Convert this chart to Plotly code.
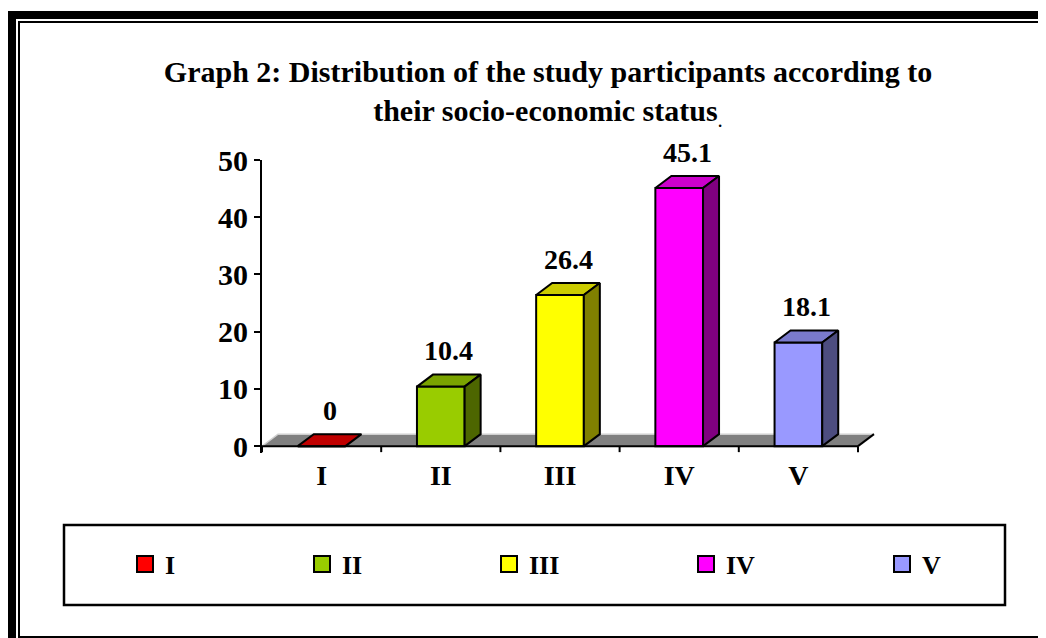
import plotly.graph_objects as go

# ---- data ----
categories = ["I", "II", "III", "IV", "V"]
values = [0, 10.4, 26.4, 45.1, 18.1]
front_colors = ["#FF0000", "#99CC00", "#FFFF00", "#FF00FF", "#9999FF"]
top_colors = ["#C00000", "#7AA300", "#CCCC00", "#CC00CC", "#7A7ACC"]
side_colors = ["#800000", "#4D6600", "#808000", "#800080", "#4D4D80"]
y_ticks = [0, 10, 20, 30, 40, 50]
title_text = ("<b>Graph 2: Distribution of the study participants according to<br>"
              "their socio-economic status</b><sub>.</sub>")

# ---- layout geometry (page has an 8px body margin) ----
OFF = 8
W, H = 1046 - OFF, 638 - OFF
L, T, B = 262 - OFF, 160 - OFF, 185
PLOT_RIGHT = 1040 - OFF
R = W - PLOT_RIGHT
PW, PH = W - L - R, H - T - B
X_UNIT_PX = 119.2
XR = [-0.5, -0.5 + PW / X_UNIT_PX]
YR = [-1.2, 50]
px_per_x = PW / (XR[1] - XR[0])
px_per_y = PH / (YR[1] - YR[0])
DX = 16 / px_per_x      # 3-D depth offset in data units
DY = 12 / px_per_y
BW = 0.4                # bar width
LABEL_OFF_PX = 36
FONT = "Liberation Serif, Times New Roman, serif"
LEGEND_ICON_PX = [145, 322, 509, 706, 902]   # legend swatch centres (window px)


def pxx(px):
    """reference-window pixel x -> paper coordinate"""
    return (px - OFF - L) / PW


def pxy(py):
    """reference-window pixel y -> paper coordinate"""
    return (H - B - (py - OFF)) / PH


fig = go.Figure()
n = len(categories)
xs = list(range(n))

# front faces (bars)
for i, (c, v) in enumerate(zip(categories, values)):
    fig.add_trace(go.Bar(
        x=[i], y=[v], width=BW, name=c, legendgroup=c, showlegend=False,
        marker=dict(color=front_colors[i], line=dict(color="black", width=2)),
        hoverinfo="skip",
    ))

# top and side faces
for i, v in enumerate(values):
    x0, x1 = i - BW / 2, i + BW / 2
    fig.add_trace(go.Scatter(
        x=[x0, x1, x1 + DX, x0 + DX, x0], y=[v, v, v + DY, v + DY, v],
        fill="toself", fillcolor=top_colors[i], mode="lines",
        line=dict(color="black", width=2), showlegend=False, hoverinfo="skip"))
    if v > 0:
        fig.add_trace(go.Scatter(
            x=[x1, x1 + DX, x1 + DX, x1, x1], y=[0, DY, v + DY, v, 0],
            fill="toself", fillcolor=side_colors[i], mode="lines",
            line=dict(color="black", width=2), showlegend=False, hoverinfo="skip"))

# x axis line, boundary ticks, right floor edge
bx = [b - 0.5 for b in range(n + 1)]
tx, ty = [bx[0], bx[-1], None], [0, 0, None]
for b in bx:
    tx += [b, b, None]
    ty += [0, -6 / px_per_y, None]
tx += [bx[-1], bx[-1] + DX]
ty += [0, DY]
fig.add_trace(go.Scatter(x=tx, y=ty, mode="lines", line=dict(color="black", width=2),
                         showlegend=False, hoverinfo="skip"))

# legend entries (square swatches), one small legend per entry
legend_names = ["legend"] + [f"legend{k}" for k in range(2, n + 1)]
for i, c in enumerate(categories):
    fig.add_trace(go.Scatter(
        x=[None], y=[None], mode="markers", name=c, legendgroup=c,
        legend=legend_names[i],
        marker=dict(symbol="square", size=16, color=front_colors[i],
                    line=dict(color="black", width=2)),
        showlegend=True, hoverinfo="skip"))

# data labels
annotations = []
for i, v in enumerate(values):
    annotations.append(dict(
        x=i + DX / 2, y=v, xref="x", yref="y", text=f"<b>{v:g}</b>",
        showarrow=False, yshift=LABEL_OFF_PX, xanchor="center", yanchor="middle",
        font=dict(family=FONT, size=28, color="black")))

shapes = []
# floor
shapes.append(dict(type="path", xref="x", yref="y", layer="below",
                   path=f"M {bx[0]},0 L {bx[-1]},0 L {bx[-1]+DX},{DY} L {bx[0]+DX},{DY} Z",
                   fillcolor="#808080", line=dict(width=0)))
shapes.append(dict(type="path", xref="x", yref="y", layer="below",
                   path=f"M {bx[0]},0 L {bx[0]+DX},{DY} L {bx[-1]+DX},{DY}",
                   line=dict(color="#D0D0D0", width=1.5)))
# outer frame
shapes.append(dict(type="rect", xref="paper", yref="paper",
                   x0=pxx(12), x1=pxx(1080), y0=pxy(15), y1=pxy(680),
                   line=dict(color="black", width=8)))
shapes.append(dict(type="rect", xref="paper", yref="paper",
                   x0=pxx(19), x1=pxx(1070), y0=pxy(22), y1=pxy(637),
                   line=dict(color="black", width=2)))
# legend box
shapes.append(dict(type="rect", xref="paper", yref="paper",
                   x0=pxx(64), x1=pxx(1005), y0=pxy(525), y1=pxy(605),
                   line=dict(color="black", width=2.5)))

legend_layouts = {}
for i, ln in enumerate(legend_names):
    legend_layouts[ln] = dict(
        orientation="h", x=pxx(LEGEND_ICON_PX[i] - 20), xanchor="left",
        y=pxy(564), yanchor="middle",
        font=dict(family=FONT, size=26, color="black", weight="bold"),
        bgcolor="rgba(0,0,0,0)", borderwidth=0)

fig.update_layout(
    width=W, height=H,
    margin=dict(l=L, r=R, t=T, b=B, autoexpand=False),
    paper_bgcolor="white", plot_bgcolor="white",
    barmode="overlay",
    showlegend=True,
    title=dict(text=title_text, x=(548 - OFF) / W, xanchor="center", xref="container",
               y=1 - 74 / H, yanchor="top", yref="container",
               font=dict(family=FONT, size=30, color="black")),
    xaxis=dict(range=XR, showgrid=False, zeroline=False, showline=False,
               tickvals=xs, ticktext=categories, ticks="",
               tickfont=dict(family=FONT, size=28, color="black", weight="bold"),
               ticklabelstandoff=3, fixedrange=True),
    yaxis=dict(range=YR, showgrid=False, zeroline=False, showline=True,
               linecolor="black", linewidth=2, ticks="outside", ticklen=6,
               tickwidth=2, tickcolor="black", tickvals=y_ticks,
               tickfont=dict(family=FONT, size=30, color="black", weight="bold"),
               fixedrange=True),
    annotations=annotations,
    shapes=shapes,
    **legend_layouts,
)

fig.write_html("out.html")
